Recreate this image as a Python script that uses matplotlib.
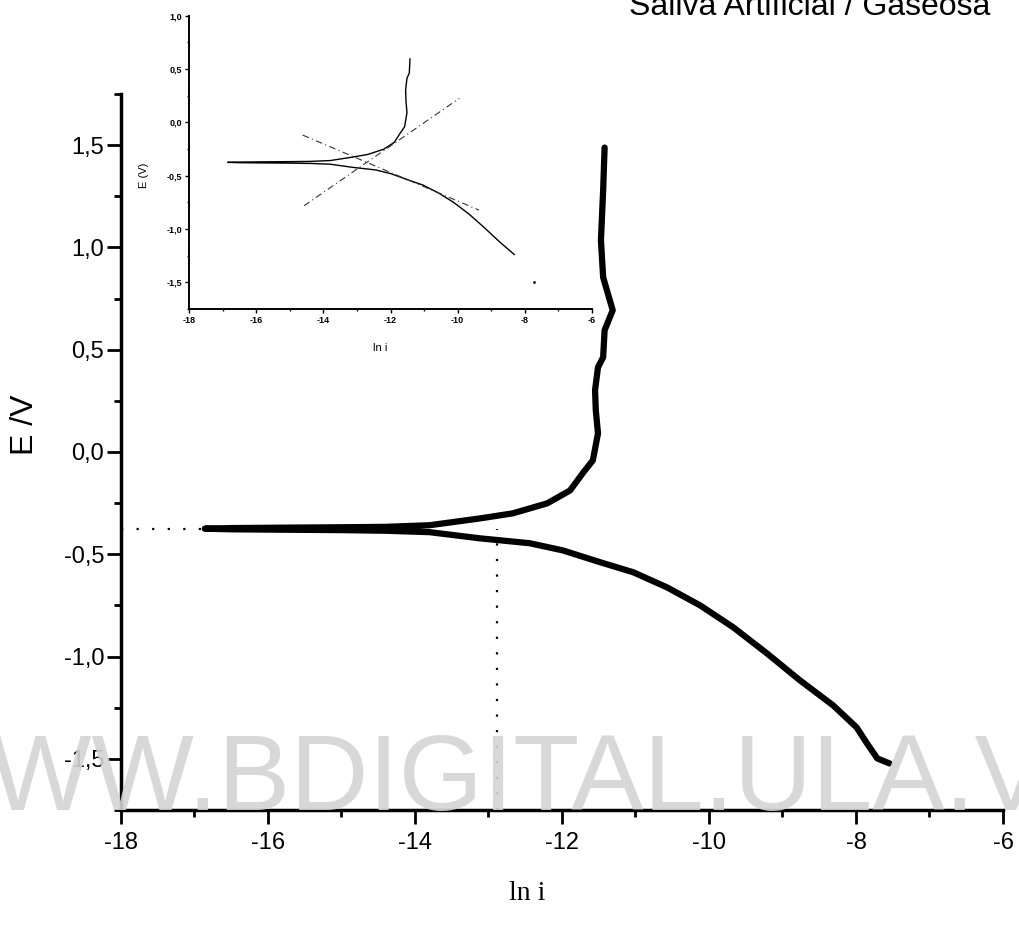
import numpy as np
import matplotlib.pyplot as plt
from matplotlib.ticker import MultipleLocator

plt.rcParams['font.family'] = ['Liberation Sans', 'DejaVu Sans']
plt.rcParams['axes.unicode_minus'] = False

# curva de polarizacion: rama catodica (desde -1.5 V) y luego rama anodica
ln_i = [-7.54, -7.71, -7.85, -7.99, -8.31, -8.76, -9.21, -9.67, -10.12, -10.57,
        -11.03, -11.48, -11.99, -12.44, -13.12, -13.80, -14.40, -15.00, -15.80,
        -16.50, -16.86,
        -16.50, -15.80, -15.00, -14.40, -13.80, -13.12, -12.67, -12.20, -11.89,
        -11.71, -11.58, -11.51, -11.54, -11.55, -11.51, -11.44, -11.42, -11.31,
        -11.44, -11.47, -11.44, -11.42]
E = [-1.523, -1.498, -1.425, -1.347, -1.239, -1.117, -0.985, -0.857, -0.750, -0.662,
     -0.588, -0.539, -0.481, -0.446, -0.422, -0.392, -0.385, -0.382, -0.380,
     -0.378, -0.375,
     -0.372, -0.370, -0.368, -0.366, -0.358, -0.325, -0.300, -0.251, -0.188,
     -0.100, -0.041, 0.091, 0.204, 0.302, 0.414, 0.463, 0.595, 0.693,
     0.854, 1.035, 1.279, 1.488]

E_corr = -0.375
ln_i_corr = -12.89

# rectas de Tafel (recuadro)
tafel_a_x = [-14.58, -9.95]
tafel_a_y = [-0.782, 0.225]
tafel_c_x = [-14.62, -9.36]
tafel_c_y = [-0.119, -0.823]

x_ticks = [-18, -16, -14, -12, -10, -8, -6]
y_ticks = [-1.5, -1.0, -0.5, 0.0, 0.5, 1.0, 1.5]
y_labels = ['-1,5', '-1,0', '-0,5', '0,0', '0,5', '1,0', '1,5']
ins_y_ticks = [-1.5, -1.0, -0.5, 0.0, 0.5, 1.0]
ins_y_labels = ['-1,5', '-1,0', '-0,5', '0,0', '0,5', '1,0']

fig = plt.figure(figsize=(10.19, 9.26), dpi=100)

# grafico principal
ax = fig.add_axes([0.1187, 0.1253, 0.8656, 0.7732])
ax.plot(ln_i, E, color='black', lw=4.5, solid_capstyle='round', solid_joinstyle='round')
ax.plot([-18, ln_i[20]], [E_corr, E_corr], color='black', lw=1.6, ls=(0, (1, 6)))
ax.plot([ln_i_corr, ln_i_corr], [-1.75, E_corr], color='black', lw=1.6, ls=(0, (1, 6)))
ax.set_xlim(-18, -6)
ax.set_ylim(-1.75, 1.75)
ax.spines['top'].set_visible(False)
ax.spines['right'].set_visible(False)
for s in ['left', 'bottom']:
    ax.spines[s].set_linewidth(2.5)
ax.set_xticks(x_ticks)
ax.set_yticks(y_ticks)
ax.set_yticklabels(y_labels)
ax.xaxis.set_minor_locator(MultipleLocator(1))
ax.yaxis.set_minor_locator(MultipleLocator(0.25))
ax.tick_params(which='major', direction='out', length=10, width=2, labelsize=17)
ax.tick_params(which='minor', direction='out', length=5, width=2)
ax.tick_params(axis='x', pad=6)
ax.tick_params(axis='y', pad=2)

fig.text(25 / 1019, 0.541, 'E /V', rotation=90, fontsize=23, ha='center', va='center')
fig.text(527 / 1019, 1 - 893 / 926, 'ln i', fontsize=20, ha='center', va='center',
         family=['Liberation Serif', 'DejaVu Serif'])

# recuadro
ax_in = fig.add_axes([0.1858, 0.6663, 0.3949, 0.3167])
E_arr = np.array(E)
E_in = np.where((E_arr > -1.24) & (E_arr < 0.6), E_arr, np.nan)
ax_in.plot(ln_i, E_in, color='black', lw=1.0)
ax_in.plot(ln_i[1], E[1], 'k.', ms=2)
ax_in.plot(tafel_a_x, tafel_a_y, color='#333333', lw=0.8, ls=(0, (6, 3, 1, 3)))
ax_in.plot(tafel_c_x, tafel_c_y, color='#333333', lw=0.8, ls=(0, (6, 3, 1, 3)))
ax_in.set_xlim(-18, -6)
ax_in.set_ylim(-1.75, 1.0)
ax_in.spines['top'].set_visible(False)
ax_in.spines['right'].set_visible(False)
for s in ['left', 'bottom']:
    ax_in.spines[s].set_linewidth(1.4)
ax_in.set_xticks(x_ticks)
ax_in.set_yticks(ins_y_ticks)
ax_in.set_yticklabels(ins_y_labels)
ax_in.xaxis.set_minor_locator(MultipleLocator(1))
ax_in.yaxis.set_minor_locator(MultipleLocator(0.25))
ax_in.tick_params(which='major', direction='out', length=3, width=1, labelsize=6.5, pad=2)
ax_in.tick_params(which='minor', direction='out', length=1.5, width=1)
for lab in ax_in.get_xticklabels() + ax_in.get_yticklabels():
    lab.set_fontweight('bold')
ax_in.set_xlabel('ln i', fontsize=8)
ax_in.set_ylabel('E (V)', fontsize=8)
ax_in.xaxis.set_label_coords(0.475, -0.116)
ax_in.yaxis.set_label_coords(-0.099, 0.457)

fig.text(990 / 1019, 1 - 15 / 926, 'Saliva Artificial / Gaseosa', fontsize=23,
         ha='right', va='baseline')

# marca de agua
fig.text(0.494, 0.125, 'WWW.BDIGITAL.ULA.VE', fontsize=78, color='#d4d4d4', alpha=0.9,
         ha='center', va='baseline', zorder=10)

fig.savefig('out.png', dpi=100)
